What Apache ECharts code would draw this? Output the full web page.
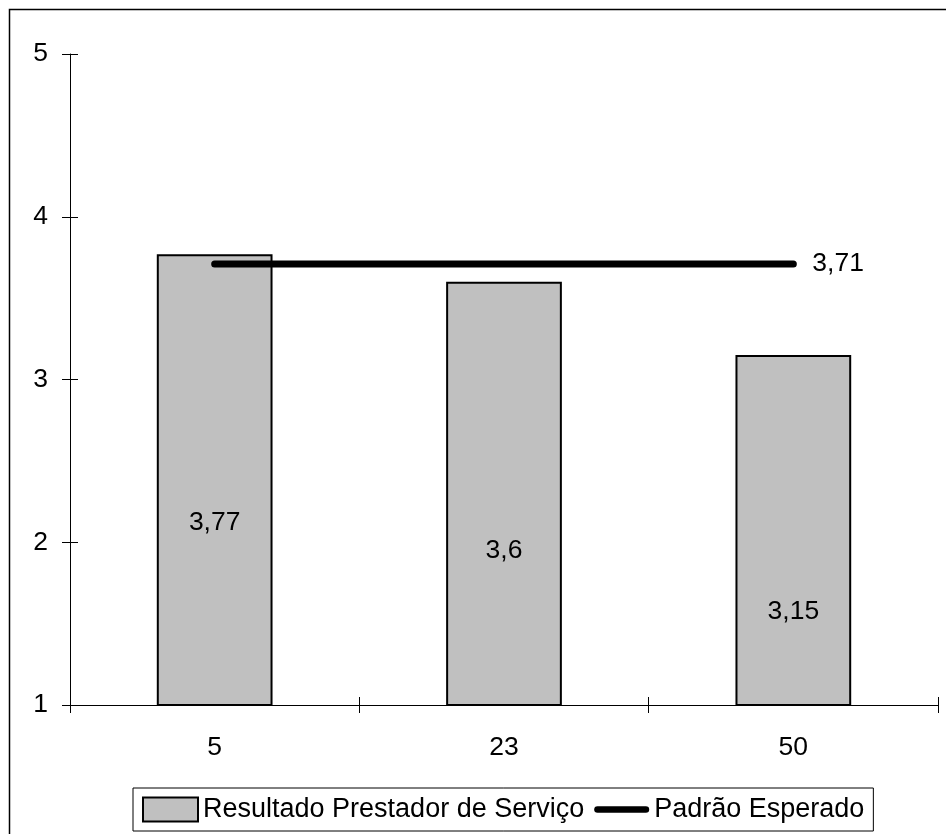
<!DOCTYPE html>
<html>
<head>
<meta charset="utf-8">
<script src="https://cdn.jsdelivr.net/npm/echarts@6/dist/echarts.min.js"></script>
<style>
  html, body { margin: 0; padding: 0; background: #fff; overflow: hidden; }
  #chart { width: 946px; height: 834px; }
</style>
</head>
<body>
<div id="chart"></div>
<script>
const categories = ['5', '23', '50'];
const barName = 'Resultado Prestador de Serviço';
const barValues = [3.77, 3.6, 3.15];
const lineName = 'Padrão Esperado';
const lineValues = [3.71, 3.71, 3.71];
const yTicks = [1, 2, 3, 4, 5];

const FONT = 'Liberation Sans, Arial, sans-serif';
const fmt = v => String(v).replace('.', ',');
const labelOffsets = [[0, 43], [0, 57], [0, 81]];
// legend icon for the thick line: rounded bar inside a 58x24 box
const lineIcon = 'path://M0,0 M58,24 M3.5,8.5 L54.5,8.5 A3.5,3.5,0,0,1,54.5,15.5 L3.5,15.5 A3.5,3.5,0,0,1,3.5,8.5 Z';

const chart = echarts.init(document.getElementById('chart'), null, { renderer: 'canvas' });

chart.setOption({
  animation: false,
  backgroundColor: '#fff',
  textStyle: { fontFamily: FONT },
  graphic: [{
    type: 'rect',
    shape: { x: 9.5, y: 9.5, width: 1200, height: 1200 },
    style: { fill: 'none', stroke: '#000', lineWidth: 1.5 },
    silent: true
  }],
  grid: { left: 70, right: 8, top: 54, bottom: 129 },
  legend: {
    left: 133, top: 788,
    padding: [8, 9, 8, 9],
    borderColor: '#000', borderWidth: 1,
    itemWidth: 55, itemHeight: 24, itemGap: 10,
    textStyle: { fontFamily: FONT, fontSize: 27, color: '#000' },
    data: [
      { name: barName, icon: 'rect', itemStyle: { color: '#c0c0c0', borderColor: '#000', borderWidth: 2 } },
      { name: lineName, icon: lineIcon, itemStyle: { color: '#000', borderWidth: 0 } }
    ]
  },
  xAxis: [{
    type: 'category',
    data: categories,
    position: 'bottom',
    axisLine: { onZero: false, lineStyle: { color: '#000', width: 1 } },
    axisTick: { show: true, inside: false, length: 8, lineStyle: { color: '#000' } },
    axisLabel: { fontFamily: FONT, fontSize: 26.5, color: '#000', margin: 29 },
    splitLine: { show: false }
  }, {
    type: 'category',
    data: categories,
    position: 'bottom',
    axisLine: { show: false, onZero: false },
    axisTick: { show: true, inside: true, length: 8, lineStyle: { color: '#000' } },
    axisLabel: { show: false },
    splitLine: { show: false }
  }],
  yAxis: [{
    type: 'value',
    min: yTicks[0], max: yTicks[yTicks.length - 1], interval: 1,
    position: 'left',
    axisLine: { show: true, lineStyle: { color: '#000', width: 1 } },
    axisTick: { show: true, inside: false, length: 8, lineStyle: { color: '#000' } },
    axisLabel: { fontFamily: FONT, fontSize: 26.5, color: '#000', margin: 22 },
    splitLine: { show: false }
  }, {
    type: 'value',
    min: yTicks[0], max: yTicks[yTicks.length - 1], interval: 1,
    position: 'left',
    axisLine: { show: false },
    axisTick: { show: true, inside: true, length: 8, lineStyle: { color: '#000' } },
    axisLabel: { show: false },
    splitLine: { show: false }
  }],
  series: [{
    name: barName,
    type: 'bar',
    xAxisIndex: 0, yAxisIndex: 0,
    barWidth: '40%',
    itemStyle: { color: '#c0c0c0', borderColor: '#000', borderWidth: 2 },
    data: barValues.map((v, i) => ({
      value: v,
      label: {
        show: true, position: 'inside', offset: labelOffsets[i],
        formatter: p => fmt(p.value),
        fontFamily: FONT, fontSize: 26.5, color: '#000'
      }
    }))
  }, {
    name: lineName,
    type: 'line',
    xAxisIndex: 0, yAxisIndex: 0,
    symbol: 'none',
    lineStyle: { color: '#000', width: 7, cap: 'round' },
    itemStyle: { color: '#000' },
    endLabel: {
      show: true, distance: 19,
      formatter: p => fmt(p.value),
      fontFamily: FONT, fontSize: 26.5, color: '#000'
    },
    data: lineValues
  }]
});
</script>
</body>
</html>
